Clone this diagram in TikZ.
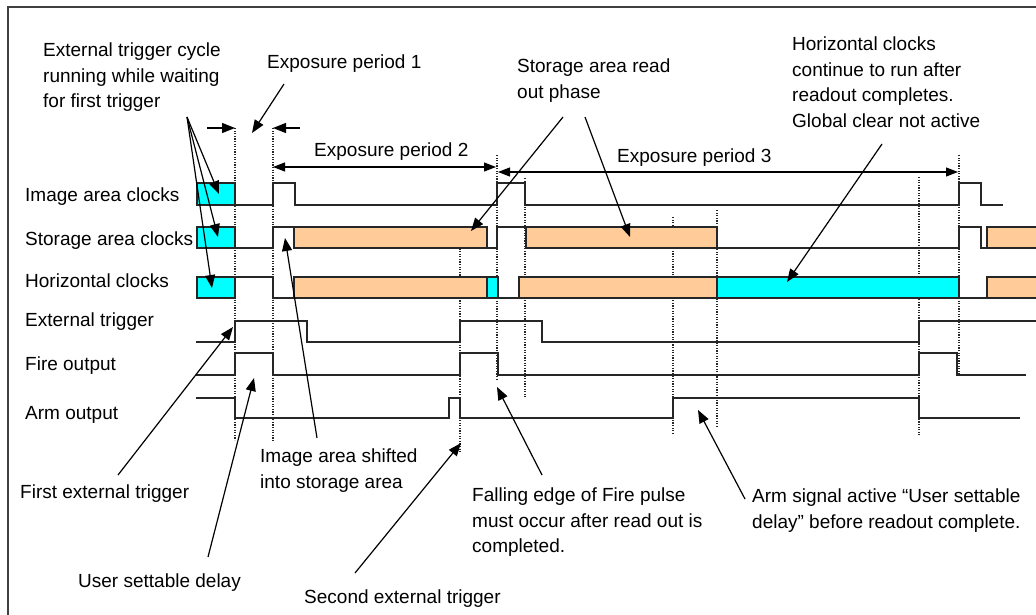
\documentclass[tikz,border=0pt]{standalone}
\usepackage{fontspec}
\setmainfont{Liberation Sans}
\usetikzlibrary{arrows.meta}
\definecolor{cy}{HTML}{00FFFF}
\definecolor{pe}{HTML}{FFCC99}
\definecolor{framec}{HTML}{404040}
\tikzset{
  wave/.style={line width=1.3pt, black!85},
  dotline/.style={line width=1.3pt, black!85, dash pattern=on 1.2pt off 1.4pt},
  cybox/.style={fill=cy, draw=black!85, line width=1.3pt},
  pebox/.style={fill=pe, draw=black!85, line width=1.3pt},
  arr/.style={line width=1.2pt, -{Triangle[length=13pt,width=10pt]}},
  darr/.style={line width=1.2pt, {Triangle[length=12pt,width=9pt]}-{Triangle[length=12pt,width=9pt]}},
  lbl/.style={inner sep=0pt, anchor=base west},
  mlbl/.style={inner sep=0pt, anchor=north west, align=left},
}
\begin{document}
\begin{tikzpicture}[x=1pt,y=-1pt,font=\fontsize{19}{25.5}\selectfont]
\useasboundingbox (0,0) rectangle (1036,615);
\fill[white] (0,0) rectangle (1036,615);
% frame
\draw[framec, line width=1.6pt] (8,615) -- (8,7) -- (1036,7);

% signal labels
\node[lbl] (limg) at (25,201) {Image area clocks};
\node[lbl] (lsto) at (25,245) {Storage area clocks};
\node[lbl] (lhor) at (25,287) {Horizontal clocks};
\node[lbl] (lext) at (25,326) {External trigger};
\node[lbl] (lfire) at (25,370) {Fire output};
\node[lbl] (larm) at (25,419) {Arm output};

% dotted verticals
\draw[dotline] (235,128) -- (235,440);
\draw[dotline] (273,128) -- (273,442);
\draw[dotline] (460,238) -- (460,452);
\draw[dotline] (497,155) -- (497,380);
\draw[dotline] (525,178) -- (525,397);
\draw[dotline] (673,217) -- (673,435);
\draw[dotline] (717,210) -- (717,428);
\draw[dotline] (919,177) -- (919,435);
\draw[dotline] (959,155) -- (959,375);

% image area clocks
\draw[cybox] (197,183) rectangle (235,205);
\draw[wave] (235,205) -- (273,205) -- (273,183) -- (295,183) -- (295,205) -- (497,205) -- (497,183) -- (525,183) -- (525,205) -- (959,205) -- (959,183) -- (981,183) -- (981,205) -- (1003,205);

% storage area clocks
\draw[cybox] (197,227) rectangle (235,248);
\draw[wave] (235,248) -- (273,248) -- (273,227) -- (294,227);
\draw[pebox] (294,227) rectangle (487,248);
\draw[wave] (487,248) -- (497,248) -- (497,227) -- (526,227);
\draw[pebox] (526,227) rectangle (717,248);
\draw[wave] (717,248) -- (959,248) -- (959,227) -- (981,227) -- (981,248) -- (987,248);
\draw[pebox] (987,227) rectangle (1040,248);

% horizontal clocks
\draw[cybox] (197,277) rectangle (235,298);
\draw[wave] (235,277) -- (273,277) -- (273,298) -- (294,298);
\draw[pebox] (294,277) rectangle (487,298);
\draw[cybox] (487,277) rectangle (498,298);
\draw[wave] (498,298) -- (519,298);
\draw[pebox] (519,277) rectangle (717,298);
\draw[cybox] (717,277) rectangle (959,298);
\draw[wave] (959,298) -- (987,298);
\draw[pebox] (987,277) rectangle (1040,298);

% external trigger
\draw[wave] (196,342) -- (235,342) -- (235,321) -- (307,321) -- (307,342) -- (460,342) -- (460,321) -- (542,321) -- (542,342) -- (919,342) -- (919,321) -- (1036,321);
% fire output
\draw[wave] (196,375) -- (235,375) -- (235,353) -- (273,353) -- (273,375) -- (460,375) -- (460,353) -- (498,353) -- (498,375) -- (919,375) -- (919,353) -- (957,353) -- (957,375) -- (1026,375);
% arm output
\draw[wave] (196,398) -- (235,398) -- (235,418) -- (449,418) -- (449,398) -- (460,398) -- (460,418) -- (673,418) -- (673,398) -- (919,398) -- (919,418) -- (1020,418);

% annotation texts
\node[mlbl] (cyc) at (43,43) {External trigger cycle\\running while waiting\\for first trigger};
\node[lbl] (e1) at (267,69) {Exposure period 1};
\node[lbl] (e2) at (314,157) {Exposure period 2};
\node[lbl] (e3) at (617,162) {Exposure period 3};
\node[mlbl] (sro) at (517,59) {Storage area read\\out phase};
\node[mlbl] (hcc) at (792,37) {Horizontal clocks\\continue to run after\\readout completes.\\Global clear not active};
\node[lbl] (fet) at (20,498) {First external trigger};
\node[lbl] (usd) at (78,587) {User settable delay};
\node[mlbl] (ias) at (260,449) {Image area shifted\\into storage area};
\node[lbl] (set) at (304,603) {Second external trigger};
\node[mlbl] (fep) at (472,488) {Falling edge of Fire pulse\\must occur after read out is\\completed.};
\node[mlbl] (asa) at (752,489) {Arm signal active “User settable\\delay” before readout complete.};

% coordinates for arrows
\coordinate (cycS) at (187,117);
\coordinate (cycA) at (219,194);
\coordinate (cycB) at (218,237);
\coordinate (cycC) at (212,288);
\coordinate (e1L0) at (207,128);
\coordinate (e1L1) at (235,128);
\coordinate (e1R0) at (300,128);
\coordinate (e1R1) at (273,128);
\coordinate (e1S) at (284,84);
\coordinate (e1T) at (252,133);
\coordinate (e2a) at (273,167);
\coordinate (e2b) at (496,167);
\coordinate (e3a) at (498,172);
\coordinate (e3b) at (958,172);
\coordinate (sroS1) at (563,117);
\coordinate (sroT1) at (471,231);
\coordinate (sroS2) at (585,117);
\coordinate (sroT2) at (630,237);
\coordinate (hccS) at (882,144);
\coordinate (hccT) at (787,282);
\coordinate (iasS) at (317,438);
\coordinate (iasT) at (285,238);
\coordinate (fetS) at (118,475);
\coordinate (fetT) at (233,327);
\coordinate (usdS) at (208,557);
\coordinate (usdT) at (254,378);
\coordinate (setS) at (355,573);
\coordinate (setT) at (461,443);
\coordinate (fepS) at (542,475);
\coordinate (fepT) at (497,387);
\coordinate (asaS) at (745,499);
\coordinate (asaT) at (698,410);

\draw[arr] (cycS) -- (cycA);
\draw[arr] (cycS) -- (cycB);
\draw[arr] (cycS) -- (cycC);
\draw[arr] (e1L0) -- (e1L1);
\draw[arr] (e1R0) -- (e1R1);
\draw[arr] (e1S) -- (e1T);
\draw[darr] (e2a) -- (e2b);
\draw[darr] (e3a) -- (e3b);
\draw[arr] (sroS1) -- (sroT1);
\draw[arr] (sroS2) -- (sroT2);
\draw[arr] (hccS) -- (hccT);
\draw[arr] (iasS) -- (iasT);
\draw[arr] (fetS) -- (fetT);
\draw[arr] (usdS) -- (usdT);
\draw[arr] (setS) -- (setT);
\draw[arr] (fepS) -- (fepT);
\draw[arr] (asaS) -- (asaT);
\end{tikzpicture}
\end{document}
